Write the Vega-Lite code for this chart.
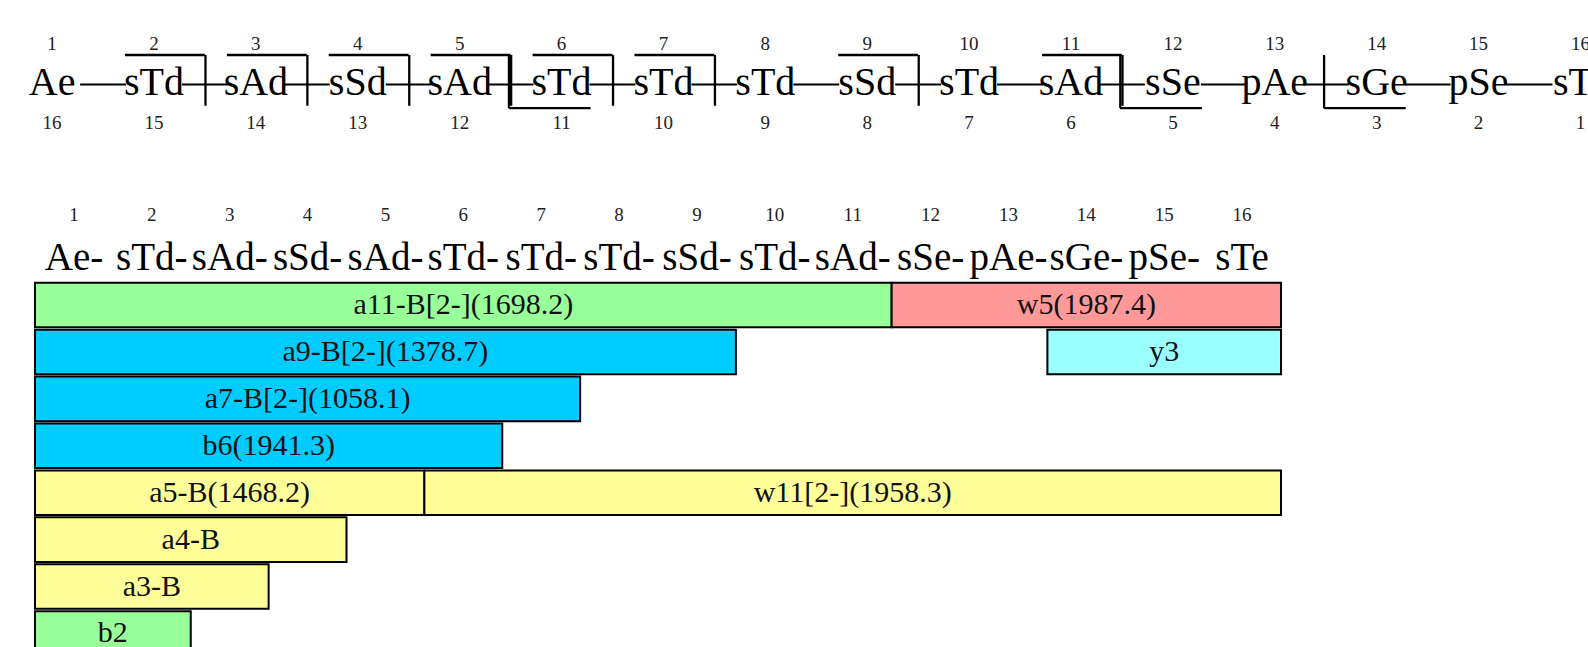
{
  "$schema": "https://vega.github.io/schema/vega-lite/v6.json",
  "padding": 0,
  "spacing": 0,
  "bounds": "flush",
  "background": "white",
  "config": {"view": {"stroke": null}, "concat": {"spacing": 0}},
  "datasets": {
    "residues": [
      {"i": 1, "name": "Ae", "seq": "Ae-", "cnum": 16},
      {"i": 2, "name": "sTd", "seq": "sTd-", "cnum": 15},
      {"i": 3, "name": "sAd", "seq": "sAd-", "cnum": 14},
      {"i": 4, "name": "sSd", "seq": "sSd-", "cnum": 13},
      {"i": 5, "name": "sAd", "seq": "sAd-", "cnum": 12},
      {"i": 6, "name": "sTd", "seq": "sTd-", "cnum": 11},
      {"i": 7, "name": "sTd", "seq": "sTd-", "cnum": 10},
      {"i": 8, "name": "sTd", "seq": "sTd-", "cnum": 9},
      {"i": 9, "name": "sSd", "seq": "sSd-", "cnum": 8},
      {"i": 10, "name": "sTd", "seq": "sTd-", "cnum": 7},
      {"i": 11, "name": "sAd", "seq": "sAd-", "cnum": 6},
      {"i": 12, "name": "sSe", "seq": "sSe-", "cnum": 5},
      {"i": 13, "name": "pAe", "seq": "pAe-", "cnum": 4},
      {"i": 14, "name": "sGe", "seq": "sGe-", "cnum": 3},
      {"i": 15, "name": "pSe", "seq": "pSe-", "cnum": 2},
      {"i": 16, "name": "sTe", "seq": "sTe", "cnum": 1}
    ],
    "nsites": [{"k": 2}, {"k": 3}, {"k": 4}, {"k": 5}, {"k": 6}, {"k": 7}, {"k": 9}, {"k": 11}],
    "csites": [{"k": 5}, {"k": 11}, {"k": 13}],
    "fragments": [
      {"row": "1", "label": "a11-B[2-](1698.2)", "start": 0, "end": 11, "grp": "green"},
      {"row": "1", "label": "w5(1987.4)", "start": 11, "end": 16, "grp": "red"},
      {"row": "2", "label": "a9-B[2-](1378.7)", "start": 0, "end": 9, "grp": "blue"},
      {"row": "2", "label": "y3", "start": 13, "end": 16, "grp": "cyan"},
      {"row": "3", "label": "a7-B[2-](1058.1)", "start": 0, "end": 7, "grp": "blue"},
      {"row": "4", "label": "b6(1941.3)", "start": 0, "end": 6, "grp": "blue"},
      {"row": "5", "label": "a5-B(1468.2)", "start": 0, "end": 5, "grp": "yellow"},
      {"row": "5", "label": "w11[2-](1958.3)", "start": 5, "end": 16, "grp": "yellow"},
      {"row": "6", "label": "a4-B", "start": 0, "end": 4, "grp": "yellow"},
      {"row": "7", "label": "a3-B", "start": 0, "end": 3, "grp": "yellow"},
      {"row": "8", "label": "b2", "start": 0, "end": 2, "grp": "green"}
    ]
  },
  "resolve": {"scale": {"x": "independent", "y": "independent"}},
  "vconcat": [
    {
      "width": 1588,
      "height": 189,
      "layer": [
        {
          "data": {"name": "residues"},
          "transform": [{"filter": "datum.i < 16"}],
          "mark": {"type": "rule", "color": "black", "strokeWidth": 2, "xOffset": 28, "x2Offset": 73.9},
          "encoding": {
            "x": {"field": "i", "type": "quantitative", "scale": {"domain": [0.4888, 16.074], "nice": false, "zero": false}, "axis": null},
            "x2": {"field": "i"},
            "y": {"datum": 0, "type": "quantitative", "scale": {"domain": [-3.5424, 2.8644], "nice": false, "zero": false}, "axis": null}
          }
        },
        {
          "data": {"name": "nsites"},
          "mark": {"type": "rule", "color": "black", "strokeWidth": 2.3, "xOffset": -29, "x2Offset": 50.9},
          "encoding": {
            "x": {"field": "k", "type": "quantitative", "axis": null},
            "x2": {"field": "k"},
            "y": {"datum": 1, "type": "quantitative", "axis": null}
          }
        },
        {
          "data": {"name": "nsites"},
          "mark": {"type": "rule", "color": "black", "strokeWidth": 2.3, "xOffset": 51.5},
          "encoding": {
            "x": {"field": "k", "type": "quantitative", "axis": null},
            "y": {"datum": 1, "type": "quantitative", "axis": null},
            "y2": {"datum": -0.72}
          }
        },
        {
          "data": {"name": "csites"},
          "mark": {"type": "rule", "color": "black", "strokeWidth": 2.3, "xOffset": 49, "x2Offset": 130.9},
          "encoding": {
            "x": {"field": "k", "type": "quantitative", "axis": null},
            "x2": {"field": "k"},
            "y": {"datum": -0.8, "type": "quantitative", "axis": null}
          }
        },
        {
          "data": {"name": "csites"},
          "mark": {"type": "rule", "color": "black", "strokeWidth": 2.3, "xOffset": 49.3},
          "encoding": {
            "x": {"field": "k", "type": "quantitative", "axis": null},
            "y": {"datum": 1, "type": "quantitative", "axis": null},
            "y2": {"datum": -0.8}
          }
        },
        {
          "data": {"name": "residues"},
          "mark": {"type": "text", "font": "Liberation Serif", "fontSize": 40, "align": "center", "baseline": "alphabetic", "color": "black"},
          "encoding": {
            "x": {"field": "i", "type": "quantitative", "axis": null},
            "y": {"datum": -0.356, "type": "quantitative", "axis": null},
            "text": {"field": "name"}
          }
        },
        {
          "data": {"name": "residues"},
          "mark": {"type": "text", "font": "Liberation Serif", "fontSize": 19, "align": "center", "baseline": "alphabetic", "color": "#222222"},
          "encoding": {
            "x": {"field": "i", "type": "quantitative", "axis": null},
            "y": {"datum": 1.169, "type": "quantitative", "axis": null},
            "text": {"field": "i", "type": "nominal"}
          }
        },
        {
          "data": {"name": "residues"},
          "mark": {"type": "text", "font": "Liberation Serif", "fontSize": 19, "align": "center", "baseline": "alphabetic", "color": "#222222"},
          "encoding": {
            "x": {"field": "i", "type": "quantitative", "axis": null},
            "y": {"datum": -1.508, "type": "quantitative", "axis": null},
            "text": {"field": "cnum", "type": "nominal"}
          }
        }
      ]
    },
    {
      "width": 1588,
      "height": 458,
      "layer": [
        {
          "data": {"name": "fragments"},
          "mark": {"type": "bar", "stroke": "black", "strokeWidth": 2, "clip": true},
          "encoding": {
            "x": {"field": "start", "type": "quantitative", "scale": {"domain": [-0.4494, 19.942], "nice": false, "zero": false}, "axis": null},
            "x2": {"field": "end"},
            "y": {"field": "row", "type": "nominal", "scale": {"type": "band", "domain": ["n", "s", "1", "2", "3", "4", "5", "6", "7", "8"], "range": [0, 466.7], "paddingInner": 0.05, "paddingOuter": 0, "align": 0, "round": false}, "axis": null},
            "color": {"field": "grp", "type": "nominal", "scale": {"domain": ["green", "red", "blue", "cyan", "yellow"], "range": ["#99FF99", "#FF9999", "#00CCFF", "#99FFFF", "#FFFF99"]}, "legend": null},
            "fillOpacity": {"value": 1}
          }
        },
        {
          "data": {"name": "fragments"},
          "transform": [{"fold": ["start", "end"], "as": ["edge", "pos"]}],
          "mark": {"type": "text", "font": "Liberation Serif", "fontSize": 30, "align": "center", "baseline": "middle", "color": "#111111", "clip": true},
          "encoding": {
            "x": {"field": "pos", "type": "quantitative", "aggregate": "mean", "axis": null},
            "y": {"field": "row", "type": "nominal", "axis": null},
            "text": {"field": "label"}
          }
        },
        {
          "data": {"name": "residues"},
          "mark": {"type": "text", "font": "Liberation Serif", "fontSize": 19, "align": "center", "baseline": "alphabetic", "color": "#222222", "dx": -38.9, "dy": 10.2},
          "encoding": {
            "x": {"field": "i", "type": "quantitative", "axis": null},
            "y": {"datum": "n", "type": "nominal", "axis": null},
            "text": {"field": "i", "type": "nominal"}
          }
        },
        {
          "data": {"name": "residues"},
          "mark": {"type": "text", "font": "Liberation Serif", "fontSize": 39, "align": "center", "baseline": "alphabetic", "color": "black", "dx": -38.9, "dy": 11.8},
          "encoding": {
            "x": {"field": "i", "type": "quantitative", "axis": null},
            "y": {"datum": "s", "type": "nominal", "axis": null},
            "text": {"field": "seq"}
          }
        }
      ]
    }
  ]
}
